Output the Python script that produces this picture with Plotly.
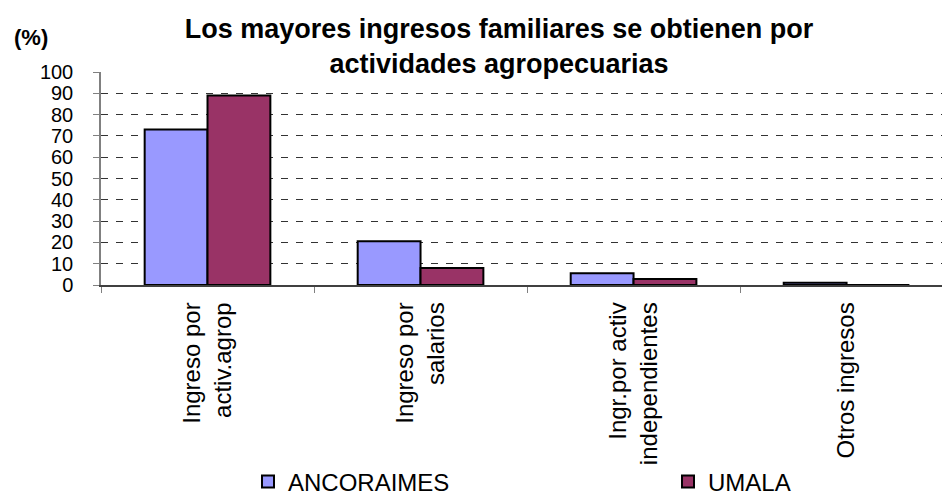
import plotly.graph_objects as go

categories = ["Ingreso por<br>activ.agrop", "Ingreso por<br>salarios",
              "Ingr.por activ<br>independientes", "Otros ingresos"]
ancoraimes = [73, 20.5, 5.5, 1]
umala = [89, 8, 2.8, 0]
y_ticks = [0, 10, 20, 30, 40, 50, 60, 70, 80, 90, 100]

W, H = 942, 496
FONT = "Liberation Sans, Arial, sans-serif"

fig = go.Figure()
fig.add_trace(go.Bar(name="ANCORAIMES", x=categories, y=ancoraimes, legend="legend",
                     marker=dict(color="#9999FF", line=dict(color="black", width=2))))
fig.add_trace(go.Bar(name="UMALA", x=categories, y=umala, legend="legend2",
                     marker=dict(color="#993366", line=dict(color="black", width=2))))

leg_common = dict(orientation="h", xref="container", yref="container",
                  xanchor="left", y=14 / H, yanchor="middle",
                  font=dict(family=FONT, size=24, color="black"),
                  bgcolor="rgba(0,0,0,0)")

fig.update_layout(
    width=W, height=H,
    margin=dict(l=101, r=0, t=72, b=211, autoexpand=False),
    paper_bgcolor="white", plot_bgcolor="white",
    barmode="group", bargap=0.41, bargroupgap=0,
    font=dict(family=FONT, color="black"),
    title=dict(text="<b>Los mayores ingresos familiares se obtienen por<br>actividades agropecuarias</b>",
               x=499 / W, xanchor="center", xref="container",
               y=1 - 38 / H, yanchor="middle", yref="container",
               font=dict(family=FONT, size=27, color="black")),
    showlegend=True,
    legend=dict(x=(262 - 14) / W, **leg_common),
    legend2=dict(x=(682 - 14) / W, **leg_common),
)

fig.update_xaxes(
    range=[-0.5, 3.448], showgrid=False, zeroline=False, automargin=False,
    showline=True, linecolor="#404040", linewidth=1.5,
    ticks="outside", tickson="boundaries", ticklen=6, tickcolor="#808080",
    tickangle=-90, tickfont=dict(family=FONT, size=24, color="black"),
    ticklabelstandoff=6,
)
fig.update_yaxes(
    range=[0, 100], tickvals=y_ticks, ticktext=[str(v) for v in y_ticks],
    showgrid=True, gridcolor="#333333", gridwidth=1, griddash="7px,8px",
    zeroline=False, showline=True, linecolor="#808080", linewidth=1.5,
    automargin=False,
    ticks="outside", ticklen=6, tickcolor="#808080",
    tickfont=dict(family=FONT, size=20, color="black"),
    ticklabelstandoff=16,
)

fig.add_annotation(text="<b>(%)</b>", xref="paper", yref="paper",
                   x=(12 - 101) / (W - 101), xanchor="left",
                   y=1 + (72 - 38) / (285 - 72), yanchor="middle",
                   showarrow=False, font=dict(family=FONT, size=22, color="black"))

fig.write_html("out.html", config={"displayModeBar": False},
               post_script="document.body.style.margin='0px';document.body.style.overflow='hidden';")
